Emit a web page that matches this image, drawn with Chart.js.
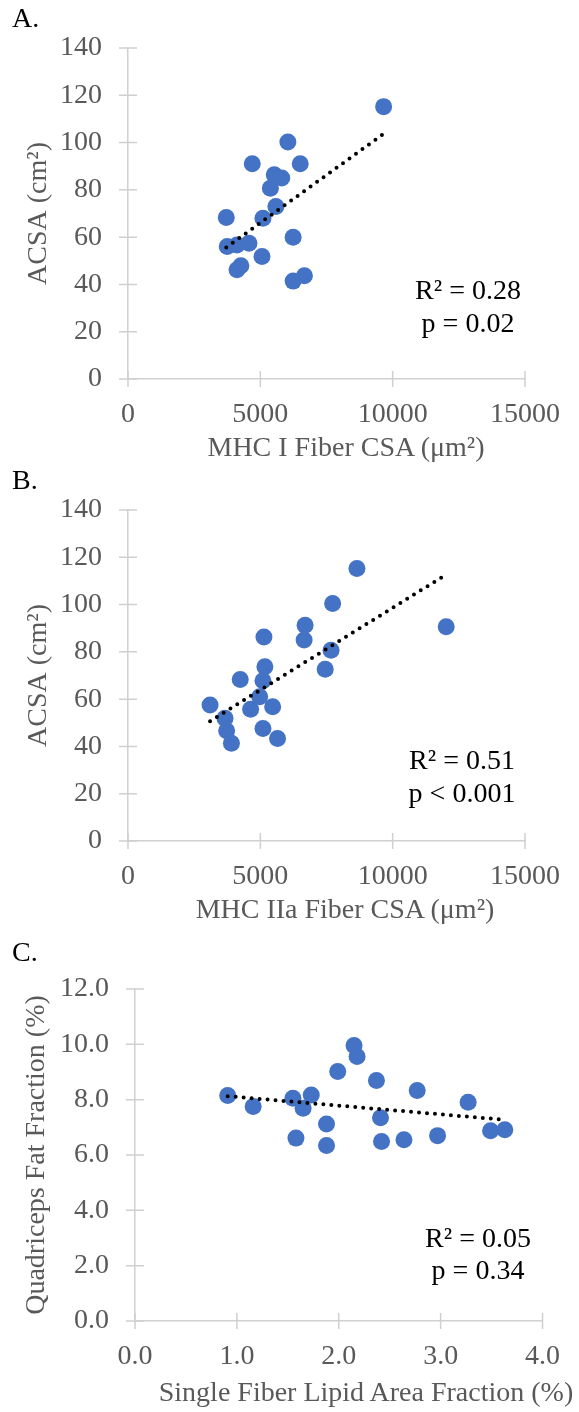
<!DOCTYPE html>
<html>
<head>
<meta charset="utf-8">
<script src="https://cdn.jsdelivr.net/npm/chart.js@4.4.1/dist/chart.umd.min.js"></script>
<style>
html, body { margin: 0; padding: 0; background: #fff; }
body { width: 579px; height: 1412px; position: relative; overflow: hidden; font-family: "Liberation Serif", "Times New Roman", serif; }
.panel { position: absolute; left: 0; }
.txt { position: absolute; white-space: nowrap; line-height: 1; font-size: 28px; }
.letter { color: #000; }
.stat { color: #000; text-align: center; width: 200px; }
.xtitle { color: #595959; text-align: center; width: 500px; }
</style>
</head>
<body>
<canvas id="chartA" class="panel" width="579" height="460" style="top:0px"></canvas>
<canvas id="chartB" class="panel" width="579" height="470" style="top:460px"></canvas>
<canvas id="chartC" class="panel" width="579" height="482" style="top:930px"></canvas>

<div class="txt letter" style="left:12px;top:4px">A.</div>
<div class="txt letter" style="left:12px;top:466px">B.</div>
<div class="txt letter" style="left:12px;top:938px">C.</div>

<div class="txt xtitle" style="left:96px;top:433px">MHC I Fiber CSA (μm²)</div>
<div class="txt xtitle" style="left:95px;top:895px">MHC IIa Fiber CSA (μm²)</div>
<div class="txt xtitle" style="left:116px;top:1378px">Single Fiber Lipid Area Fraction (%)</div>

<div class="txt stat" style="left:368px;top:276px">R² = 0.28</div>
<div class="txt stat" style="left:368px;top:309px">p = 0.02</div>
<div class="txt stat" style="left:362px;top:746px">R² = 0.51</div>
<div class="txt stat" style="left:362px;top:779px">p &lt; 0.001</div>
<div class="txt stat" style="left:378px;top:1224px">R² = 0.05</div>
<div class="txt stat" style="left:378px;top:1256px">p = 0.34</div>

<script>
// Panel A: MHC I fiber CSA (um2) vs ACSA (cm2)
const mhc1Csa  = [6040, 4695, 6507, 5526, 5809, 5379, 5588, 5099, 3713, 3750, 4118, 4570, 6239, 5063, 4265, 4118, 6239, 6666, 9658];
const mhc1Acsa = [100.2, 91.0, 91.0, 86.4, 85.0, 80.7, 73.0, 68.0, 68.3, 56.0, 56.7, 57.4, 60.0, 51.8, 47.9, 46.2, 41.4, 43.7, 115.2];

// Panel B: MHC IIa fiber CSA (um2) vs ACSA (cm2)
const mhc2aCsa  = [8650, 7732, 6691, 6654, 5136, 7672, 7451, 5172, 5099, 4240, 4976, 4632, 5466, 3101, 3665, 3726, 3908, 5099, 5650, 12022];
const mhc2aAcsa = [115.3, 100.5, 91.3, 85.0, 86.3, 80.7, 72.6, 73.7, 67.8, 68.3, 61.0, 55.7, 56.8, 57.5, 51.9, 46.6, 41.3, 47.6, 43.4, 90.6];

// Panel C: single fiber lipid area fraction (%) vs quadriceps fat fraction (%)
const lipidFrac = [0.91, 1.16, 1.55, 1.73, 1.65, 1.99, 2.15, 2.18, 2.37, 2.41, 1.88, 1.58, 1.88, 2.42, 2.77, 3.27, 2.64, 2.97, 3.49, 3.63];
const quadFat   = [8.15, 7.75, 8.05, 8.17, 7.69, 9.02, 9.96, 9.56, 8.69, 7.35, 7.12, 6.61, 6.34, 6.49, 8.33, 7.91, 6.55, 6.70, 6.88, 6.91];

// axis ticks
const acsaTicks = [0, 20, 40, 60, 80, 100, 120, 140];
const csaTicks = [0, 5000, 10000, 15000];
const fatTicks = [0, 2, 4, 6, 8, 10, 12];
const lipidTicks = [0, 1, 2, 3, 4];

const blue = '#4472C4';
const axisGray = '#d0d0d0';
const labelGray = '#595959';
const serif = '"Liberation Serif", "Times New Roman", serif';

// least squares trend line over the x range of the data
function trendLine(xs, ys) {
    const n = xs.length;
    const mx = xs.reduce((a, b) => a + b, 0) / n;
    const my = ys.reduce((a, b) => a + b, 0) / n;
    let sxy = 0, sxx = 0;
    for (let i = 0; i < n; i++) {
        sxy += (xs[i] - mx) * (ys[i] - my);
        sxx += (xs[i] - mx) * (xs[i] - mx);
    }
    const slope = sxy / sxx;
    const x0 = Math.min(...xs), x1 = Math.max(...xs);
    return [{ x: x0, y: my + slope * (x0 - mx) }, { x: x1, y: my + slope * (x1 - mx) }];
}

// Excel style cross tick marks on both axes
const crossTicks = {
    id: 'crossTicks',
    afterDraw(chart) {
        const ctx = chart.ctx;
        const area = chart.chartArea;
        ctx.save();
        ctx.strokeStyle = axisGray;
        ctx.lineWidth = 1.5;
        ctx.beginPath();
        const xs = chart.scales.x, ys = chart.scales.y;
        xs.ticks.forEach(t => {
            const px = xs.getPixelForValue(t.value);
            ctx.moveTo(px, area.bottom - 8);
            ctx.lineTo(px, area.bottom + 8);
        });
        ys.ticks.forEach(t => {
            const py = ys.getPixelForValue(t.value);
            ctx.moveTo(area.left - 9, py);
            ctx.lineTo(area.left + 9, py);
        });
        ctx.stroke();
        ctx.restore();
    }
};

function makePanel(id, cfg) {
    const canvas = document.getElementById(id);
    const pts = cfg.xs.map((x, i) => ({ x: x, y: cfg.ys[i] }));
    return new Chart(canvas, {
        type: 'scatter',
        data: {
            datasets: [
                {
                    type: 'line',
                    data: trendLine(cfg.xs, cfg.ys),
                    borderColor: '#000',
                    borderWidth: 4,
                    borderDash: [0, 8],
                    borderCapStyle: 'round',
                    pointRadius: 0,
                    fill: false
                },
                {
                    data: pts,
                    backgroundColor: blue,
                    borderWidth: 0,
                    pointRadius: 8.5,
                    pointHoverRadius: 8.5
                }
            ]
        },
        options: {
            responsive: false,
            animation: false,
            events: [],
            layout: {
                padding: { top: cfg.top, right: canvas.width - cfg.right, left: 0, bottom: 0 }
            },
            plugins: {
                legend: { display: false },
                tooltip: { enabled: false }
            },
            scales: {
                x: {
                    type: 'linear',
                    min: cfg.xTicks[0],
                    max: cfg.xTicks[cfg.xTicks.length - 1],
                    afterBuildTicks: s => { s.ticks = cfg.xTicks.map(v => ({ value: v })); },
                    afterFit: s => { s.height = canvas.height - cfg.bottom; },
                    grid: { display: false, drawTicks: false },
                    border: { display: true, color: axisGray, width: 1.5 },
                    ticks: {
                        padding: 19,
                        color: labelGray,
                        font: { family: serif, size: 28 },
                        maxRotation: 0,
                        callback: v => cfg.xFmt(v)
                    }
                },
                y: {
                    type: 'linear',
                    min: cfg.yTicks[0],
                    max: cfg.yTicks[cfg.yTicks.length - 1],
                    afterBuildTicks: s => { s.ticks = cfg.yTicks.map(v => ({ value: v })); },
                    afterFit: s => { s.width = cfg.left; },
                    grid: { display: false, drawTicks: false },
                    border: { display: true, color: axisGray, width: 1.5 },
                    ticks: {
                        padding: 26,
                        color: labelGray,
                        font: { family: serif, size: 28 },
                        callback: v => cfg.yFmt(v)
                    },
                    title: {
                        display: true,
                        text: cfg.yTitle,
                        color: labelGray,
                        font: { family: serif, size: 28 },
                        padding: { top: cfg.yTitlePad, bottom: 0 }
                    }
                }
            }
        },
        plugins: [crossTicks]
    });
}

makePanel('chartA', {
    xs: mhc1Csa, ys: mhc1Acsa,
    xTicks: csaTicks, yTicks: acsaTicks,
    xFmt: v => String(v), yFmt: v => String(v),
    yTitle: 'ACSA (cm²)', yTitlePad: 22,
    left: 128, right: 536, top: 48, bottom: 379
});

makePanel('chartB', {
    xs: mhc2aCsa, ys: mhc2aAcsa,
    xTicks: csaTicks, yTicks: acsaTicks,
    xFmt: v => String(v), yFmt: v => String(v),
    yTitle: 'ACSA (cm²)', yTitlePad: 22,
    left: 128, right: 536, top: 50, bottom: 381
});

makePanel('chartC', {
    xs: lipidFrac, ys: quadFat,
    xTicks: lipidTicks, yTicks: fatTicks,
    xFmt: v => v.toFixed(1), yFmt: v => v.toFixed(1),
    yTitle: 'Quadriceps Fat Fraction (%)', yTitlePad: 20,
    left: 135, right: 554, top: 59, bottom: 391
});
</script>
</body>
</html>
